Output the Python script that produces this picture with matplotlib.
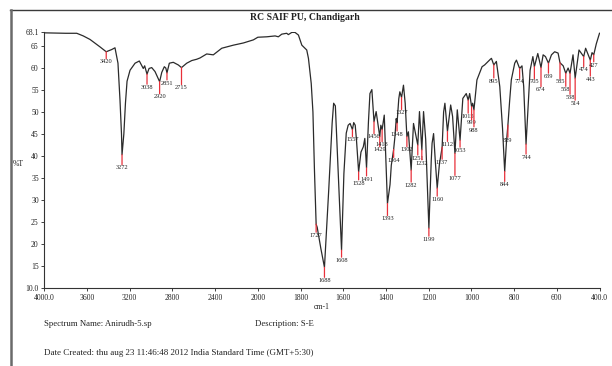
import numpy as np
import matplotlib
matplotlib.use("Agg")
import matplotlib.pyplot as plt
from matplotlib.lines import Line2D

plt.rcParams['font.family'] = ['Liberation Serif', 'DejaVu Serif']

# ---------------- data ----------------
wavenumber = [
    4000, 3800, 3696, 3635, 3572, 3478, 3420, 3369, 3338, 3310, 3291, 3277, 3272,
    3255, 3240, 3225, 3197, 3150, 3110, 3073, 3060, 3038, 3019, 2994, 2963, 2940,
    2920, 2900, 2876, 2862, 2851, 2829, 2792, 2745, 2715, 2666, 2619, 2572, 2541,
    2479, 2417, 2338, 2229, 2135, 2042, 2000, 1958, 1919, 1904, 1888, 1865, 1857,
    1841, 1826, 1810, 1794, 1779, 1771, 1763, 1750, 1742, 1735, 1727, 1722, 1705,
    1688, 1668, 1652, 1645, 1637, 1630, 1617, 1608, 1597, 1586, 1577, 1568, 1557,
    1551, 1544, 1538, 1528, 1517, 1506, 1499, 1491, 1482, 1475, 1466, 1456, 1446,
    1429, 1424, 1418, 1408, 1393, 1381, 1375, 1364, 1358, 1352, 1348, 1340, 1335,
    1327, 1318, 1310, 1302, 1295, 1282, 1271, 1251, 1243, 1232, 1224, 1214, 1199,
    1188, 1184, 1177, 1169, 1160, 1150, 1137, 1130, 1124, 1112, 1097, 1088, 1077,
    1066, 1053, 1040, 1024, 1015, 1008, 999, 994, 988, 974, 950, 938, 911, 906,
    895, 883, 867, 854, 844, 836, 829, 821, 813, 797, 789, 774, 763, 755, 744, 733,
    725, 712, 705, 689, 674, 664, 653, 639, 625, 610, 594, 585, 570, 558, 547, 538,
    524, 514, 496, 474, 465, 443, 435, 427, 415, 400]
transmittance = [
    68.0, 67.9, 67.9, 67.3, 66.5, 64.8, 63.7, 64.2, 64.6, 61.1, 52.7, 45.0, 40.3,
    45.0, 52.0, 57.0, 59.5, 61.1, 61.6, 59.9, 60.5, 58.6, 59.9, 60.1, 59.2, 58.0,
    56.9, 59.0, 60.3, 60.0, 58.9, 61.1, 61.3, 60.7, 60.1, 61.1, 61.7, 62.0, 62.3,
    63.2, 63.0, 64.5, 65.2, 65.7, 66.4, 67.0, 67.1, 67.3, 67.1, 67.7, 67.9, 67.6,
    68.1, 68.1, 67.5, 65.2, 64.5, 64.1, 62.2, 56.5, 50.0, 37.0, 24.5, 23.8, 19.0,
    14.7, 32.3, 47.5, 52.0, 51.4, 43.6, 28.7, 18.6, 36.0, 45.2, 47.0, 47.4, 46.0,
    47.6, 47.0, 43.6, 36.4, 40.9, 42.1, 44.0, 37.3, 47.8, 54.2, 55.1, 47.8, 50.1,
    44.4, 47.0, 46.0, 49.3, 29.2, 33.5, 37.9, 41.5, 44.4, 48.5, 47.5, 53.0, 54.6,
    53.3, 56.1, 52.0, 44.4, 45.5, 36.8, 47.4, 42.5, 50.1, 41.4, 50.1, 43.8, 23.6,
    38.9, 42.9, 45.1, 38.9, 32.7, 38.0, 42.0, 50.0, 52.0, 45.6, 51.6, 49.0, 40.6,
    50.5, 43.6, 53.1, 54.2, 52.7, 54.2, 51.2, 52.0, 50.5, 57.3, 60.3, 60.7, 62.0, 62.2,
    60.7, 61.5, 55.8, 46.2, 36.5, 43.0, 47.0, 52.4, 57.3, 61.1, 61.8, 59.9, 60.5, 55.8, 42.7, 52.4,
    59.5, 62.6, 60.3, 63.3, 60.1, 63.0, 62.6, 61.1, 63.0, 63.7, 63.4, 61.2, 60.5, 58.8, 60.0, 58.8,
    63.0, 57.7, 64.1, 62.6, 64.5, 61.8, 63.5, 63.0, 65.5, 67.9]

peak_labels = [3420, 3272, 3038, 2920, 2851, 2715, 1727, 1688, 1608, 1557, 1528,
               1491, 1456, 1429, 1418, 1393, 1364, 1348, 1327, 1302, 1282, 1251,
               1232, 1199, 1160, 1137, 1112, 1077, 1053, 1015, 999, 988, 895, 844,
               829, 774, 744, 705, 674, 639, 585, 558, 538, 514, 474, 443, 427]
# layout: length of each red marker line (pixels)
label_drop_px = [7, 10, 10, 12, 7, 17, 8, 10, 7, 7, 8,
                 8, 12, 10, 12, 12, 8, 8, 12, 10, 12, 10,
                 10, 8, 8, 12, 10, 22, 7, 13, 13, 17, 13, 10,
                 12, 10, 10, 12, 19, 10, 16, 13, 21, 22, 10, 16, 7]

x_ticks = [4000, 3600, 3200, 2800, 2400, 2000, 1800, 1600, 1400, 1200, 1000, 800, 600, 400]
x_tick_labels = ["4000.0", "3600", "3200", "2800", "2400", "2000", "1800", "1600",
                 "1400", "1200", "1000", "800", "600", "400.0"]
y_ticks = [10, 15, 20, 25, 30, 35, 40, 45, 50, 55, 60, 65, 68.1]
y_tick_labels = ["10.0", "15", "20", "25", "30", "35", "40", "45", "50", "55", "60", "65", "68.1"]

title = "RC SAIF PU, Chandigarh"
spectrum_name = "Spectrum Name: Anirudh-5.sp"
description = "Description: S-E"
date_created = "Date Created: thu aug 23 11:46:48 2012 India Standard Time (GMT+5:30)"

# ---------------- scale (split axis at 2000 cm-1) ----------------
def fwd(w):
    w = np.asarray(w, dtype=float)
    return np.where(w >= 2000, 5 + (w - 2000) / 400.0, 5 + (w - 2000) / 200.0)

def inv(f):
    f = np.asarray(f, dtype=float)
    return np.where(f >= 5, 2000 + (f - 5) * 400.0, 2000 + (f - 5) * 200.0)

fig = plt.figure(figsize=(6.12, 3.66), dpi=100)
ax = fig.add_axes([44.3 / 612, (366 - 288) / 366, (599.5 - 44.3) / 612, (288 - 32.4) / 366])
ax.set_xscale('function', functions=(fwd, inv))
ax.set_xlim(4000, 400)
ax.set_ylim(10, 68.1)

ax.plot(wavenumber, transmittance, color='#2b2b2b', lw=0.9)

w_arr = np.array(wavenumber)[::-1]
t_arr = np.array(transmittance)[::-1]
for wn, drop in zip(peak_labels, label_drop_px):
    tv = float(np.interp(wn, w_arr, t_arr))
    ax.annotate('', xy=(wn, tv), xytext=(0, -drop * 0.72), textcoords='offset points',
                arrowprops=dict(arrowstyle='-', color='#e8303a', lw=0.9,
                                shrinkA=0, shrinkB=0))
    ax.annotate(str(wn), xy=(wn, tv), xytext=(0, -drop * 0.72 - 0.5),
                textcoords='offset points', ha='center', va='top', fontsize=4.6,
                color='#222222')

ax.set_xticks(x_ticks)
ax.set_xticklabels(x_tick_labels)
ax.set_yticks(y_ticks)
ax.set_yticklabels(y_tick_labels)
ax.xaxis.set_minor_locator(matplotlib.ticker.NullLocator())
ax.tick_params(axis='both', labelsize=5.5, length=2, width=0.6, colors='#222222', pad=2)
for s in ['top', 'right']:
    ax.spines[s].set_visible(False)
for s in ['left', 'bottom']:
    ax.spines[s].set_linewidth(0.8)
    ax.spines[s].set_color('#333333')
ax.set_facecolor('none')

fig.text(305 / 612, 1 - 18 / 366, title, ha='center', va='center', fontsize=7,
         fontweight='bold', color='#222222')
fig.text(18 / 612, 1 - 164 / 366, "%T", ha='center', va='center', fontsize=5.5, color='#222222')
fig.text(322 / 612, 1 - 307 / 366, "cm-1", ha='center', va='center', fontsize=5.5, color='#222222')
fig.text(44 / 612, 1 - 324 / 366, spectrum_name, ha='left', va='center', fontsize=6.3, color='#222222')
fig.text(255 / 612, 1 - 324 / 366, description, ha='left', va='center', fontsize=6.3, color='#222222')
fig.text(44 / 612, 1 - 353 / 366, date_created, ha='left', va='center', fontsize=6.5, color='#222222')

# page frame
fig.add_artist(Line2D([10 / 612, 1], [1 - 9.5 / 366] * 2, color='#3a3a3a', lw=1.0))
fig.add_artist(Line2D([10.5 / 612] * 2, [0, 1 - 9.5 / 366], color='#6a6a6a', lw=1.8))

fig.savefig("out.png", dpi=100)
